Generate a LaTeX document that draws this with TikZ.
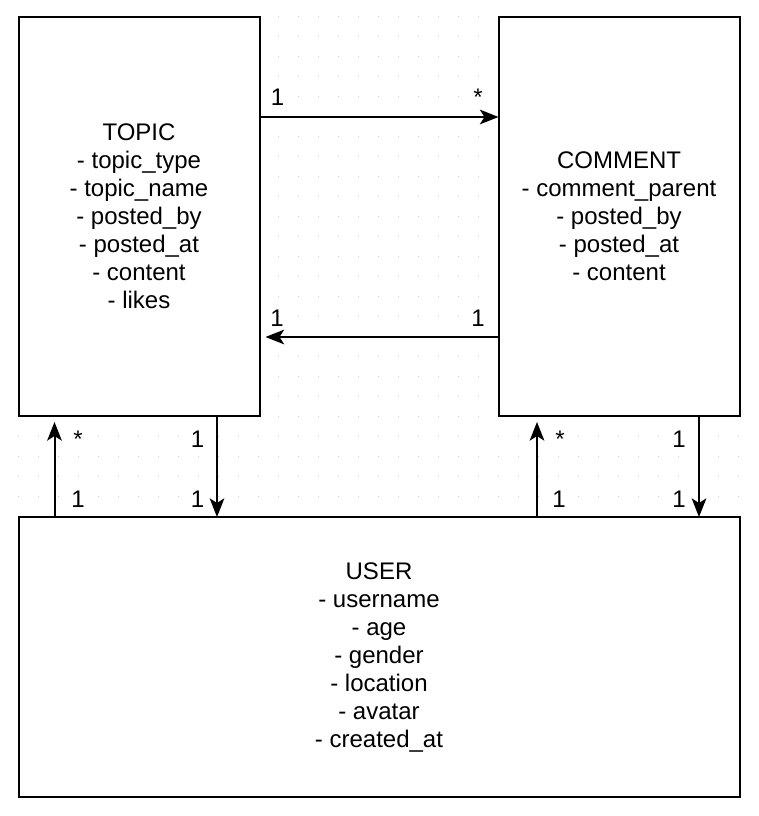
\documentclass[tikz,border=0pt]{standalone}
\usepackage{fontspec}
\setmainfont{Liberation Sans}
\usetikzlibrary{arrows.meta}
\begin{document}
\begin{tikzpicture}[x=0.75pt,y=-0.75pt,
  ent/.style={draw=black,line width=1.5pt,fill=white,inner sep=0pt,outer sep=0pt,align=center,font=\fontsize{18}{21}\selectfont},
  conn/.style={line width=1.5pt,-{Stealth[length=14pt,width=11pt,inset=3.5pt]}},
  lbl/.style={inner sep=0pt,anchor=base,font=\fontsize{18}{21}\selectfont},
  gridc/.style={fill=black!20}]
\useasboundingbox[fill=white] (0,0) rectangle (758,816);
% dotted grid
\foreach \i in {0,...,36}{
  \foreach \j in {0,...,39}{
    \fill[gridc] ({18.5+20*\i-0.6},{16.5+20*\j-0.6}) rectangle +(1.2,1.2);
  }
}
% entities
\node[ent,minimum width=180.75pt,minimum height=299.6pt] (topic) at (139,216.25)
  {TOPIC\\- topic\_type\\- topic\_name\\- posted\_by\\- posted\_at\\- content\\- likes};
\node[ent,minimum width=180.75pt,minimum height=299.6pt] (comment) at (619,216.25)
  {COMMENT\\- comment\_parent\\- posted\_by\\- posted\_at\\- content};
\node[ent,minimum width=540.75pt,minimum height=210pt] (user) at (379,657)
  {USER\\- username\\- age\\- gender\\- location\\- avatar\\- created\_at};
% connector guides
\coordinate (h1) at (0,117);
\coordinate (h2) at (0,337);
\coordinate (v1) at (54.5,0);
\coordinate (v2) at (217,0);
\coordinate (v3) at (537,0);
\coordinate (v4) at (699,0);
\draw[conn] (topic.east|-h1) -- (comment.west|-h1);
\draw[conn,shorten >=4.5pt] (comment.west|-h2) -- (topic.east|-h2);
\draw[conn,shorten >=4.5pt] (v1|-user.north) -- (v1|-topic.south);
\draw[conn] (v2|-topic.south) -- (v2|-user.north);
\draw[conn,shorten >=4.5pt] (v3|-user.north) -- (v3|-comment.south);
\draw[conn] (v4|-comment.south) -- (v4|-user.north);
% multiplicity labels
\node[lbl] (l1) at (277.5,106) {1};
\node[lbl] (l2) at (478,106) {*};
\node[lbl] (l3) at (277,326) {1};
\node[lbl] (l4) at (478,326) {1};
\node[lbl] (l5) at (78,447) {*};
\node[lbl] (l6) at (197.5,447) {1};
\node[lbl] (l7) at (78,507) {1};
\node[lbl] (l8) at (197.5,507) {1};
\node[lbl] (l9) at (560,447) {*};
\node[lbl] (l10) at (679,447) {1};
\node[lbl] (l11) at (559,507) {1};
\node[lbl] (l12) at (679,507) {1};
\end{tikzpicture}
\end{document}
